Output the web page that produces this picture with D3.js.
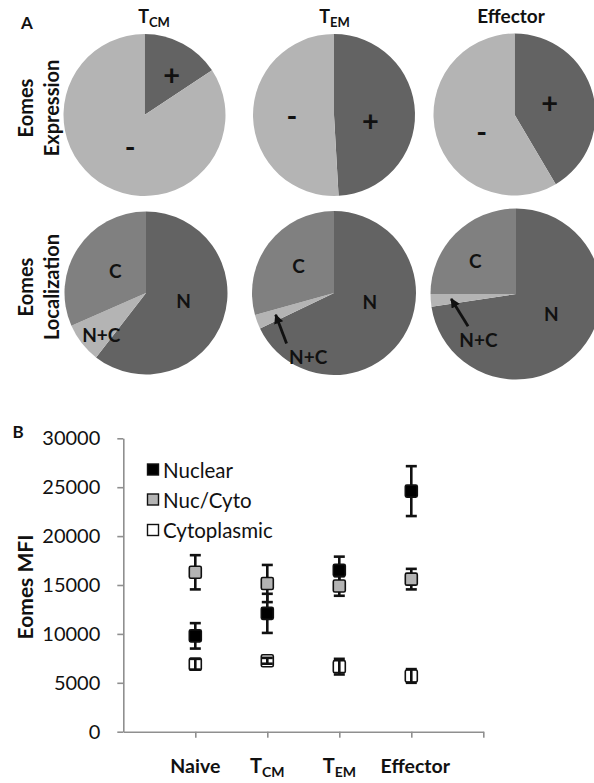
<!DOCTYPE html>
<html><head><meta charset="utf-8">
<script src="https://cdn.jsdelivr.net/npm/d3@7"></script>
<style>
body{margin:0;background:#fff}
svg{display:block}
text{font-family:Lato,"Open Sans",sans-serif;fill:#111}
</style>
</head><body>
<svg id="chart" width="594" height="783"></svg>
<script>
// ---------------- DATA ----------------
// Panel A
const columnTitleMain = ["T", "T", "Effector"];
const columnTitleSub  = ["CM", "EM", ""];
const expressionLabels = ["+", "-"];
const expressionValues = [[15.7, 84.3], [49.1, 50.9], [41.5, 58.5]];   // % of cells
const localizationLabels = ["N", "N+C", "C"];
const localizationValues = [[60.5, 7.9, 31.6], [67.9, 2.8, 29.3], [72.6, 2.4, 25.0]]; // %
// Panel B
const cellTypeMain = ["Naive", "T", "T", "Effector"];
const cellTypeSub  = ["", "CM", "EM", ""];
const seriesNames = ["Nuclear", "Nuc/Cyto", "Cytoplasmic"];
const nuclearMFI   = [9800, 12100, 16500, 24600];
const nuclearErr   = [1300, 2000, 1400, 2550];
const nucCytoMFI   = [16300, 15150, 14900, 15600];
const nucCytoErr   = [1750, 1900, 1000, 1050];
const cytoMFI      = [6900, 7250, 6650, 5700];
const cytoErr      = [550, 300, 800, 700];
const yTickValues  = [0, 5000, 10000, 15000, 20000, 25000, 30000];

// ---------------- LAYOUT / STYLE ----------------
const svg = d3.select("#chart");
const FONT = 'Lato,"Open Sans",sans-serif';
const topPies = [{cx:144.5, cy:115, r:81}, {cx:334, cy:115, r:81}, {cx:514.5, cy:114.5, r:81}];
const botPies = [{cx:146, cy:293, r:81.5}, {cx:334, cy:293, r:82}, {cx:516, cy:294, r:85.5}];
const titleDx = [9.5, 0.5, -3.5];
const expColors = ["#636363", "#b4b4b4"];
const locColors = ["#636363", "#b4b4b4", "#808080"];
// label polar placement [angleDeg, radiusFraction]
const expLabelPos = [[[32.7,0.62],[207,0.39]], [[95,0.45],[273,0.52]], [[67.8,0.47],[247,0.44]]];
const locLabelPos = [[[100.6,0.47],[227,0.75],[306.6,0.47]],
                     [[103.6,0.45],[202,0.84],[308,0.55]],
                     [[118.4,0.47],[219.5,0.69],[309.7,0.62]]];
const locArrow = [null, {dx:-21.6, dy:-13.4}, {dx:-10.4, dy:-13.3}];

function polar(p, deg, frac){
  const a = deg*Math.PI/180;
  return [p.cx + p.r*frac*Math.sin(a), p.cy - p.r*frac*Math.cos(a)];
}

// defs: arrowhead
svg.append("defs").append("marker")
  .attr("id","ah").attr("viewBox","0 0 10 10").attr("refX",9).attr("refY",5)
  .attr("markerWidth",3.6).attr("markerHeight",3.4).attr("orient","auto")
  .append("path").attr("d","M0,0 L10,5 L0,10 z").attr("fill","#111");

const pie = d3.pie().sort(null).value(d => d);

// Panel letters
svg.append("text").attr("x",21).attr("y",28.5).attr("font-size",17).attr("font-weight",700).text("A");
svg.append("text").attr("x",12.5).attr("y",437.5).attr("font-size",17).attr("font-weight",700).text("B");

// Column titles
columnTitleMain.forEach((t,i) => {
  const tx = svg.append("text").attr("x", topPies[i].cx + titleDx[i]).attr("y", 23)
    .attr("text-anchor","middle").attr("font-weight",700);
  if (columnTitleSub[i]) {
    tx.append("tspan").attr("font-size",18).text(t);
    tx.append("tspan").attr("font-size",13).attr("dy",4).text(columnTitleSub[i]);
  } else {
    tx.attr("font-size",19).text(t);
  }
});

// Row labels
function rowLabel(lines, cy){
  lines.forEach((s, k) => {
    svg.append("text").attr("transform", `translate(${[33,59][k]},${cy}) rotate(-90)`)
      .attr("text-anchor","middle").attr("font-size",20).attr("font-weight",700).text(s);
  });
}
rowLabel(["Eomes","Expression"], 108);
rowLabel(["Eomes","Localization"], 287);

// Expression pies
expressionValues.forEach((vals, i) => {
  const p = topPies[i];
  const arc = d3.arc().innerRadius(0).outerRadius(p.r);
  const g = svg.append("g").attr("transform",`translate(${p.cx},${p.cy})`);
  g.selectAll("path").data(pie(vals)).join("path")
    .attr("d", arc).attr("fill", (d,j) => expColors[j]);
  expressionLabels.forEach((lab, j) => {
    const [x,y] = polar(p, expLabelPos[i][j][0], expLabelPos[i][j][1]);
    svg.append("text").attr("x",x).attr("y",y + (lab === "-" ? 2 : 1))
      .attr("text-anchor","middle").attr("dominant-baseline","central")
      .attr("font-size",29).attr("font-weight",700).text(lab);
  });
});

// Localization pies
localizationValues.forEach((vals, i) => {
  const p = botPies[i];
  const arc = d3.arc().innerRadius(0).outerRadius(p.r);
  const g = svg.append("g").attr("transform",`translate(${p.cx},${p.cy})`);
  const arcs = pie(vals);
  g.selectAll("path").data(arcs).join("path")
    .attr("d", arc).attr("fill", (d,j) => locColors[j]);
  localizationLabels.forEach((lab, j) => {
    const [x,y] = polar(p, locLabelPos[i][j][0], locLabelPos[i][j][1]);
    svg.append("text").attr("x",x).attr("y",y)
      .attr("text-anchor","middle").attr("dominant-baseline","central")
      .attr("font-size",19).attr("font-weight",700).text(lab);
    if (j === 1 && locArrow[i]) {
      const a = arcs[1];
      const mid = (a.startAngle + a.endAngle)/2 * 180/Math.PI;
      const [tx,ty] = polar(p, mid, 0.76);
      svg.append("line").attr("x1", x + locArrow[i].dx).attr("y1", y + locArrow[i].dy)
        .attr("x2", tx).attr("y2", ty).attr("stroke","#111").attr("stroke-width",2.8)
        .attr("marker-end","url(#ah)");
    }
  });
});

// ---------------- PANEL B ----------------
const x = d3.scaleLinear().domain([0, 5]).range([123.3, 483.3]);
const y = d3.scaleLinear().domain([0, 30000]).range([731.7, 438.3]);
const axisColor = "#8f8f8f";

const yAxis = svg.append("g").attr("transform",`translate(${x(0)},0)`)
  .call(d3.axisLeft(y).tickValues(yTickValues).tickSize(6).tickSizeOuter(0).tickPadding(17).tickFormat(d3.format("d")));
yAxis.select(".domain").attr("stroke",axisColor).attr("stroke-width",1.6);
yAxis.selectAll(".tick line").attr("stroke",axisColor).attr("stroke-width",1.6);
yAxis.selectAll(".tick text").attr("font-size",20).attr("font-family",FONT).attr("fill","#222");

const xAxis = svg.append("g").attr("transform",`translate(0,${y(0)})`)
  .call(d3.axisBottom(x).tickValues([1,2,3,4,5]).tickSize(6).tickSizeOuter(0).tickFormat(""));
xAxis.select(".domain").attr("stroke",axisColor).attr("stroke-width",1.6);
xAxis.selectAll(".tick line").attr("stroke",axisColor).attr("stroke-width",1.6);

// y axis title
svg.append("text").attr("transform",`translate(33,587) rotate(-90)`)
  .attr("text-anchor","middle").attr("font-size",21).attr("font-weight",700).text("Eomes MFI");

// category labels
cellTypeMain.forEach((t,i) => {
  const tx = svg.append("text").attr("x", x(i+1) + (i===3 ? 4 : 0)).attr("y", 773)
    .attr("text-anchor","middle").attr("font-weight",700);
  if (cellTypeSub[i]) {
    tx.append("tspan").attr("font-size",20).text(t);
    tx.append("tspan").attr("font-size",14).attr("dy",4).text(cellTypeSub[i]);
  } else {
    tx.attr("font-size",19.5).text(t);
  }
});

const series = [
  {name: seriesNames[0], mean: nuclearMFI, err: nuclearErr, fill: "#000"},
  {name: seriesNames[1], mean: nucCytoMFI, err: nucCytoErr, fill: "#b4b4b4"},
  {name: seriesNames[2], mean: cytoMFI,    err: cytoErr,    fill: "none"}
];
const cap = 5.5, ms = 12;

// error bars
series.forEach(s => {
  const g = svg.append("g").attr("stroke","#111").attr("stroke-width",2.6);
  s.mean.forEach((m,i) => {
    const cx = x(i+1);
    g.append("line").attr("x1",cx).attr("x2",cx).attr("y1",y(m+s.err[i])).attr("y2",y(m-s.err[i]));
    g.append("line").attr("x1",cx-cap).attr("x2",cx+cap).attr("y1",y(m+s.err[i])).attr("y2",y(m+s.err[i]));
    g.append("line").attr("x1",cx-cap).attr("x2",cx+cap).attr("y1",y(m-s.err[i])).attr("y2",y(m-s.err[i]));
  });
});
// markers
series.forEach(s => {
  svg.append("g").selectAll("rect").data(s.mean).join("rect")
    .attr("x",(d,i) => x(i+1)-ms/2).attr("y", d => y(d)-ms/2)
    .attr("width",ms).attr("height",ms).attr("rx",1.5)
    .attr("fill",s.fill).attr("stroke","#111").attr("stroke-width",1.6);
});

// legend
const legY = [469.5, 499.5, 530];
series.forEach((s,k) => {
  svg.append("rect").attr("x",147.5).attr("y",legY[k]-5.5).attr("width",11).attr("height",11)
    .attr("fill", s.fill === "none" ? "#fff" : s.fill).attr("stroke","#111").attr("stroke-width",1.4);
  svg.append("text").attr("x",163).attr("y",legY[k]).attr("dominant-baseline","central")
    .attr("font-size",20.5).attr("fill","#222").text(s.name);
});
</script>
</body></html>
